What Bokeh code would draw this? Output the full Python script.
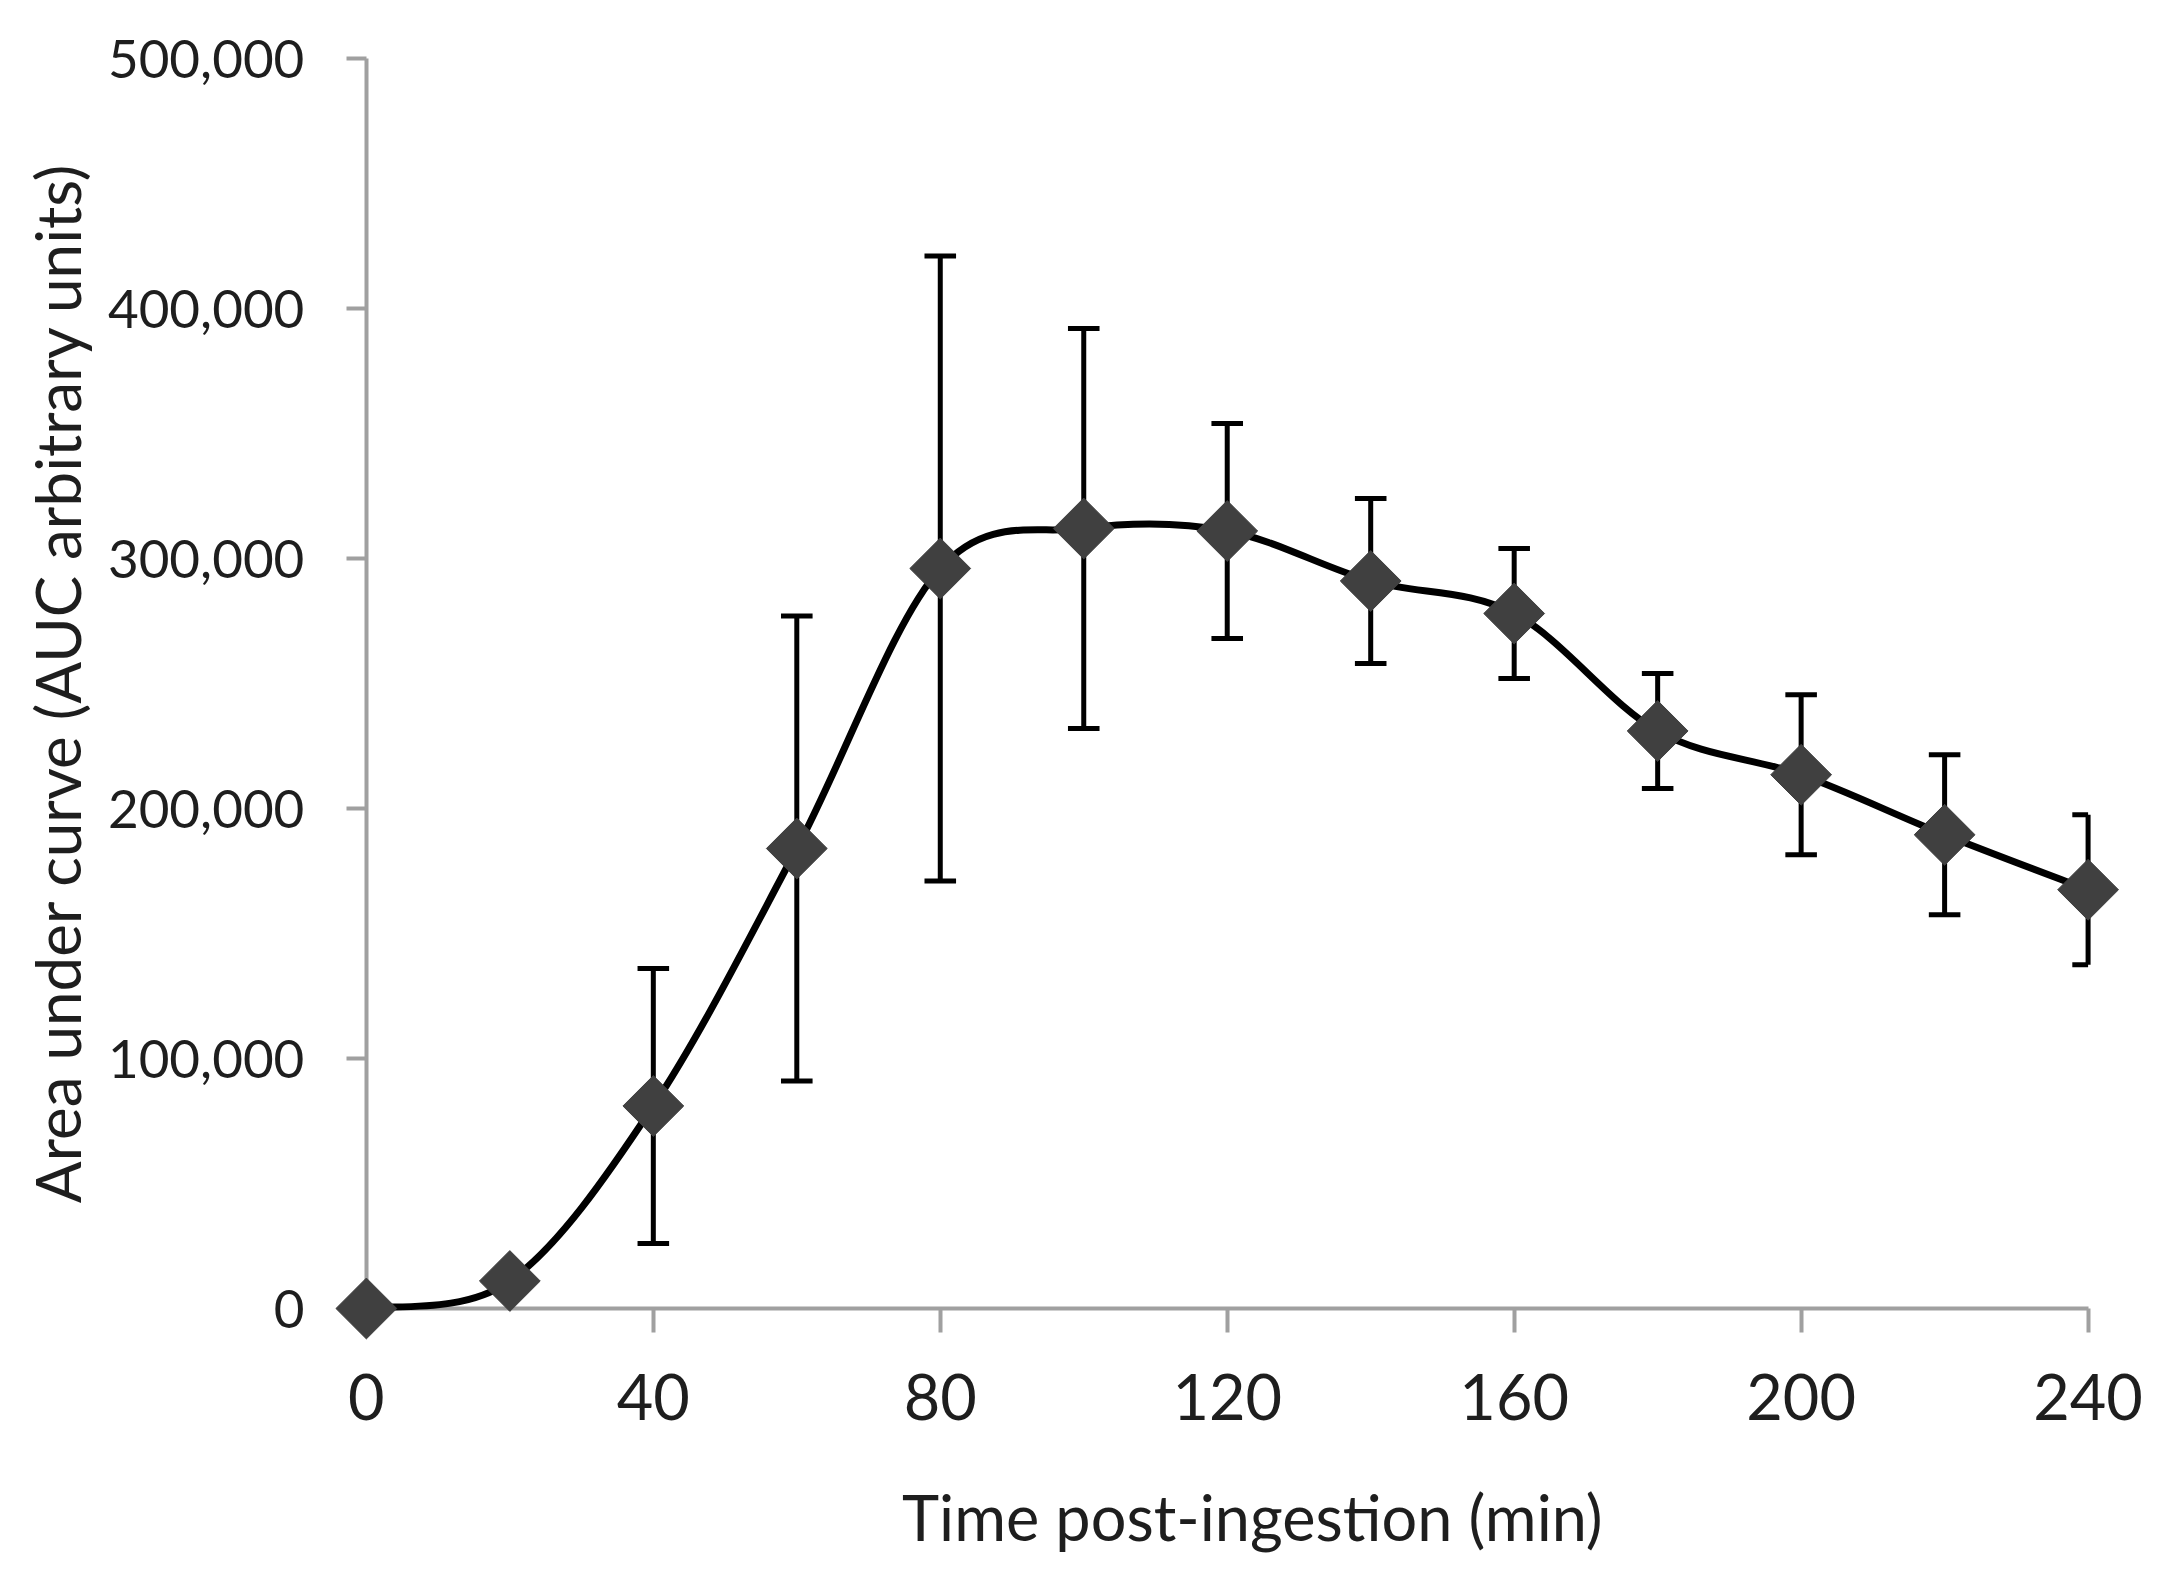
import numpy as np
from bokeh.plotting import figure
from bokeh.models import Range1d, FixedTicker, NumeralTickFormatter, ColumnDataSource, Label
from bokeh.embed import file_html
from bokeh.resources import INLINE

# ---- data ----
time_min = [0, 20, 40, 60, 80, 100, 120, 140, 160, 180, 200, 220, 240]
auc_mean = [0, 11000, 81000, 184000, 296000, 312000, 311000, 291000, 278000, 231000, 213500, 189500, 167500]
auc_err = [0, 0, 55000, 93000, 125000, 80000, 43000, 33000, 26000, 23000, 32000, 32000, 30000]
x_ticks = [0, 40, 80, 120, 160, 200, 240]
y_ticks = [0, 100000, 200000, 300000, 400000, 500000]
x_title = "Time post-ingestion (min)"
y_title = "Area under curve (AUC arbitrary units)"

FONT = "Lato"
X_MIN, X_MAX = 0, 240
Y_MIN, Y_MAX = 0, 500000

# frame covers the whole canvas; the axes sit at x=0 / y=0 inside it
p = figure(
    frame_width=2150, frame_height=1558,
    min_border_left=0, min_border_right=0, min_border_top=0, min_border_bottom=0,
    x_range=Range1d(-51.0, 248.7), y_range=Range1d(-100000, 523200),
    output_backend="svg", toolbar_location=None,
)
p.outline_line_color = None
p.xgrid.visible = False
p.ygrid.visible = False
p.background_fill_color = "white"
p.border_fill_color = "white"

for ax in (p.xaxis, p.yaxis):
    ax.fixed_location = 0
    ax.level = "underlay"
    ax.axis_line_color = "#a0a0a0"
    ax.axis_line_width = 4
    ax.major_tick_line_color = "#a0a0a0"
    ax.major_tick_line_width = 4
    ax.major_tick_in = 0
    ax.minor_tick_line_color = None
    ax.major_label_text_font = FONT
    ax.major_label_text_color = "#1e1e1e"

p.xaxis.bounds = (X_MIN, X_MAX)
p.yaxis.bounds = (Y_MIN, Y_MAX)
p.xaxis.ticker = FixedTicker(ticks=x_ticks)
p.yaxis.ticker = FixedTicker(ticks=y_ticks)
p.yaxis.formatter = NumeralTickFormatter(format="0,0")
p.xaxis.major_tick_out = 24
p.yaxis.major_tick_out = 20
p.xaxis.major_label_text_font_size = "63px"
p.yaxis.major_label_text_font_size = "53px"
p.xaxis.major_label_standoff = 41
p.yaxis.major_label_standoff = 42

# axis titles
p.add_layout(Label(x=123.5, y=-83000, text=x_title, text_font=FONT, text_font_size="63px",
                   text_color="#1e1e1e", text_align="center", text_baseline="middle"))
p.add_layout(Label(x=-43.1, y=250400, text=y_title, text_font=FONT, text_font_size="62px",
                   text_color="#1e1e1e", text_align="center", text_baseline="middle",
                   angle=np.pi / 2))

# ---- error bars ----
t = np.array(time_min, dtype=float)
m = np.array(auc_mean, dtype=float)
e = np.array(auc_err, dtype=float)
cap_half = 2.2  # x data units (~16 px)
has = e > 0
p.segment(x0=t[has], y0=(m - e)[has], x1=t[has], y1=(m + e)[has], line_color="black", line_width=5)
cx0 = np.maximum(t - cap_half, X_MIN)[has]
cx1 = np.minimum(t + cap_half, X_MAX)[has]
p.segment(x0=cx0, y0=(m + e)[has], x1=cx1, y1=(m + e)[has], line_color="black", line_width=5)
p.segment(x0=cx0, y0=(m - e)[has], x1=cx1, y1=(m - e)[has], line_color="black", line_width=5)

# ---- smoothed line (Catmull-Rom -> cubic Bezier through the data points) ----
n = len(t)
i0 = np.arange(n - 1)
i1 = i0 + 1
prev_i = np.clip(i0 - 1, 0, n - 1)
next_i = np.clip(i0 + 2, 0, n - 1)
bz = dict(
    x0=t[i0], y0=m[i0], x1=t[i1], y1=m[i1],
    cx0=t[i0] + (t[i1] - t[prev_i]) / 6.0, cy0=m[i0] + (m[i1] - m[prev_i]) / 6.0,
    cx1=t[i1] - (t[next_i] - t[i0]) / 6.0, cy1=m[i1] - (m[next_i] - m[i0]) / 6.0,
)
p.bezier(source=ColumnDataSource(bz), x0="x0", y0="y0", x1="x1", y1="y1",
         cx0="cx0", cy0="cy0", cx1="cx1", cy1="cy1", line_color="black", line_width=7)

# ---- markers ----
p.scatter(t, m, marker="square", size=43, angle=np.pi / 4, fill_color="#404040",
          line_color="#404040", line_width=1)

open("out.html", "w").write(file_html(p, INLINE))
